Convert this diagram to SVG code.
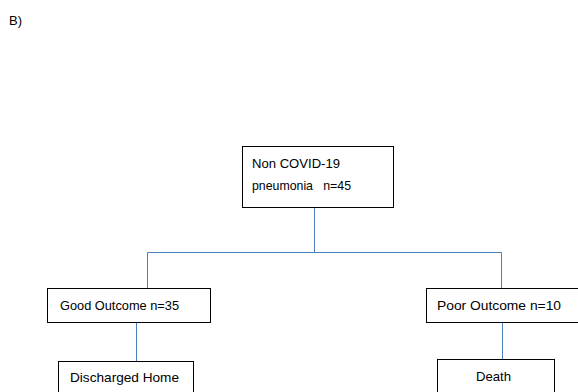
<svg xmlns="http://www.w3.org/2000/svg" width="578" height="392" viewBox="0 0 578 392">
<style>
.box{fill:#fff;stroke:#000;stroke-width:1}
.t{font-family:"Liberation Sans",Arial,sans-serif;font-size:13px;fill:#000}
.c{fill:none;stroke:#4a7ebb;stroke-width:1}
</style>
<rect width="578" height="392" fill="#fff"/>
<text class="t" x="9" y="25">B)</text>
<g id="connectors">
<path class="c" d="M314.5 208V252.5H147.5V288M314.5 252.5H501.5V288"/>
<path class="c" d="M136.5 323V361"/>
<path class="c" d="M502.5 323V359"/>
</g>
<g id="root">
<rect class="box" x="242.5" y="146.5" width="151" height="61"/>
<text class="t" x="252" y="168" textLength="88" lengthAdjust="spacingAndGlyphs">Non COVID-19</text>
<text class="t" x="252" y="190" xml:space="preserve" textLength="99" lengthAdjust="spacingAndGlyphs">pneumonia   n=45</text>
</g>
<g id="good">
<rect class="box" x="47.5" y="288.5" width="163" height="34"/>
<text class="t" x="60" y="310" textLength="119" lengthAdjust="spacingAndGlyphs">Good Outcome n=35</text>
</g>
<g id="poor">
<rect class="box" x="426.5" y="288.5" width="160" height="34"/>
<text class="t" x="437" y="310" textLength="124" lengthAdjust="spacingAndGlyphs">Poor Outcome n=10</text>
</g>
<g id="discharged">
<rect class="box" x="58.5" y="361.5" width="135" height="40"/>
<text class="t" x="70" y="382" textLength="109" lengthAdjust="spacingAndGlyphs">Discharged Home</text>
</g>
<g id="death">
<rect class="box" x="437.5" y="359.5" width="117" height="40"/>
<text class="t" x="476" y="381" textLength="35" lengthAdjust="spacingAndGlyphs">Death</text>
</g>
</svg>
